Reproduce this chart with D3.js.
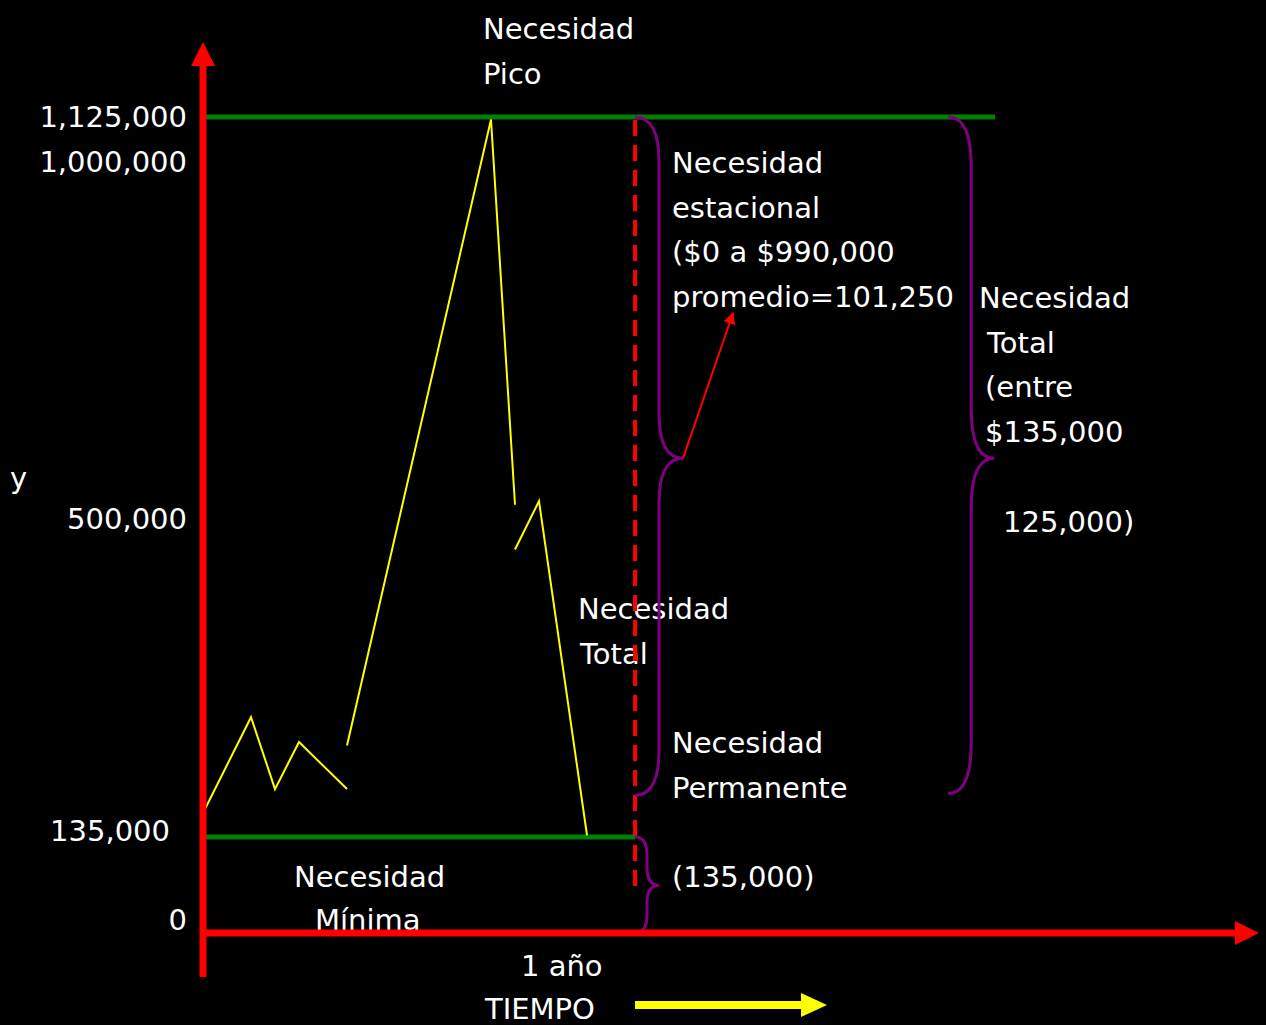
<!DOCTYPE html>
<html>
<head>
<meta charset="utf-8">
<script src="https://cdn.jsdelivr.net/npm/d3@7"></script>
<style>
  html, body { margin: 0; padding: 0; background: #000; overflow: hidden; }
  svg text { font-family: "Comic Sans MS", "DejaVu Sans", sans-serif; fill: #fff; }
</style>
</head>
<body>
<svg id="chart"></svg>
<script>
// periods (18 per year) and financing need in $
const tickValues = [0, 135000, 500000, 1000000, 1125000];
const tickLabels = ['0', '135,000', '500,000', '1,000,000', '1,125,000'];
const seg1 = [[0, 162500], [2, 272500], [3, 190000], [4, 244000], [6, 190000]];
const seg2 = [[6, 240000], [12, 1118000], [13, 520000]];
const seg3 = [[13, 465000], [14, 525000], [16, 137000]];
const peakNeed = 1125000;
const minNeed = 135000;
const oneYear = 18;

const W = 1266, H = 1025;
const svg = d3.select('#chart').attr('width', W).attr('height', H);
svg.append('rect').attr('width', W).attr('height', H).attr('fill', '#000');

// x: periods, y: piecewise like the slide
const x = d3.scaleLinear().domain([0, oneYear]).range([203, 635]);
const y = d3.scaleLinear().domain(tickValues).range([933, 837, 519, 162, 117]);

const FS = 29;
const text = (str, tx, ty, anchor) => svg.append('text')
  .attr('x', tx).attr('y', ty)
  .attr('text-anchor', anchor || 'start')
  .style('font-size', FS + 'px')
  .text(str);

// text blocks (drawn first, lines cross over them)
const lines = (arr, tx, ty, step) => arr.forEach((s, i) => text(s[0], tx + (s[1] || 0), ty + i * step));
lines([['Necesidad'], ['Pico']], 483, 39, 45);
lines([['Necesidad'], ['estacional'], ['($0 a $990,000'], ['promedio=101,250']], 672, 173, 44.7);
lines([['Necesidad'], ['Total', 8], ['(entre', 6], ['$135,000', 6], [''], ['125,000)', 24]], 979, 308, 44.7);
lines([['Necesidad'], ['Total', 2]], 578, 619, 45);
lines([['Necesidad'], ['Permanente']], 672, 753, 45);
text('(135,000)', 672, 887);
lines([['Necesidad'], ['Mínima', 21]], 294, 887, 43);
text('1 año', 521, 976);
text('TIEMPO', 485, 1019);
text('y', 10, 488);

// y tick labels (the two lowest sit a bit above their level, as on the slide)
svg.append('g').selectAll('text')
  .data(tickValues)
  .join('text')
  .attr('x', d => d === minNeed ? 170 : 187)
  .attr('y', d => y(d) - (d === 0 ? 13 : d === minNeed ? 6 : 0))
  .attr('dy', '0.35em')
  .attr('text-anchor', 'end')
  .style('font-size', FS + 'px')
  .text((d, i) => tickLabels[i]);

// green reference lines
svg.append('line')
  .attr('x1', x(0)).attr('x2', x(33))
  .attr('y1', y(peakNeed)).attr('y2', y(peakNeed))
  .attr('stroke', '#008000').attr('stroke-width', 5);
svg.append('line')
  .attr('x1', x(0)).attr('x2', x(oneYear))
  .attr('y1', y(minNeed)).attr('y2', y(minNeed))
  .attr('stroke', '#008000').attr('stroke-width', 5);

// yellow need line
const line = d3.line().x(d => x(d[0])).y(d => y(d[1]));
svg.append('g').selectAll('path')
  .data([seg1, seg2, seg3])
  .join('path')
  .attr('d', line)
  .attr('fill', 'none')
  .attr('stroke', '#ffff00')
  .attr('stroke-width', 2);

// dashed 1-year line
svg.append('line')
  .attr('x1', x(oneYear)).attr('x2', x(oneYear))
  .attr('y1', y(peakNeed) + 3).attr('y2', 890)
  .attr('stroke', '#ff0000').attr('stroke-width', 4)
  .attr('stroke-dasharray', '16,9');

// braces
function brace(xv, v0, v1, vTip, w, r) {
  const x0 = x(xv), x1 = x0 + w, xt = x0 + 2 * w;
  const y0 = y(v0), y1 = y(v1), yt = y(vTip);
  return `M${x0},${y0} Q${x1},${y0} ${x1},${y0 + r} L${x1},${yt - r} Q${x1},${yt} ${xt},${yt}` +
    ` Q${x1},${yt} ${x1},${yt + r} L${x1},${y1 - r} Q${x1},${y1} ${x0},${y1}`;
}
const braces = [
  brace(oneYear, peakNeed, 183000, 585000, 24, 45),
  brace(oneYear, minNeed, 0, 67000, 12, 18),
  brace(31.05, peakNeed, 185000, 585000, 23, 50)
];
svg.append('g').selectAll('path')
  .data(braces)
  .join('path')
  .attr('d', d => d)
  .attr('fill', 'none')
  .attr('stroke', '#800080')
  .attr('stroke-width', 3);

// red pointer arrow from brace tip to "promedio"
svg.append('defs').append('marker')
  .attr('id', 'redHead')
  .attr('viewBox', '0 0 10 10')
  .attr('refX', 9).attr('refY', 5)
  .attr('markerWidth', 7).attr('markerHeight', 6)
  .attr('markerUnits', 'strokeWidth')
  .attr('orient', 'auto')
  .append('path').attr('d', 'M0,0 L10,5 L0,10 Z').attr('fill', '#ff0000');
svg.append('line')
  .attr('x1', x(oneYear) + 48).attr('y1', y(585000))
  .attr('x2', 733).attr('y2', 313)
  .attr('stroke', '#ff0000').attr('stroke-width', 2)
  .attr('marker-end', 'url(#redHead)');

// axes
const ax0 = x(0), ay0 = y(0);
svg.append('line')
  .attr('x1', ax0).attr('x2', ax0).attr('y1', 977).attr('y2', 62)
  .attr('stroke', '#ff0000').attr('stroke-width', 7);
svg.append('path')
  .attr('d', `M${ax0},42 L${ax0 + 12},66 L${ax0 - 12},66 Z`)
  .attr('fill', '#ff0000');
svg.append('line')
  .attr('x1', ax0 - 3).attr('x2', x(43)).attr('y1', ay0).attr('y2', ay0)
  .attr('stroke', '#ff0000').attr('stroke-width', 7);
svg.append('path')
  .attr('d', `M${x(44)},${ay0} L${x(43)},${ay0 - 12} L${x(43)},${ay0 + 12} Z`)
  .attr('fill', '#ff0000');

// yellow time arrow
const ty = ay0 + 72;
svg.append('line')
  .attr('x1', x(oneYear)).attr('x2', x(25))
  .attr('y1', ty).attr('y2', ty)
  .attr('stroke', '#ffff00').attr('stroke-width', 8);
svg.append('path')
  .attr('d', `M${x(26)},${ty} L${x(25) - 2},${ty - 12} L${x(25) - 2},${ty + 12} Z`)
  .attr('fill', '#ffff00');
</script>
</body>
</html>
